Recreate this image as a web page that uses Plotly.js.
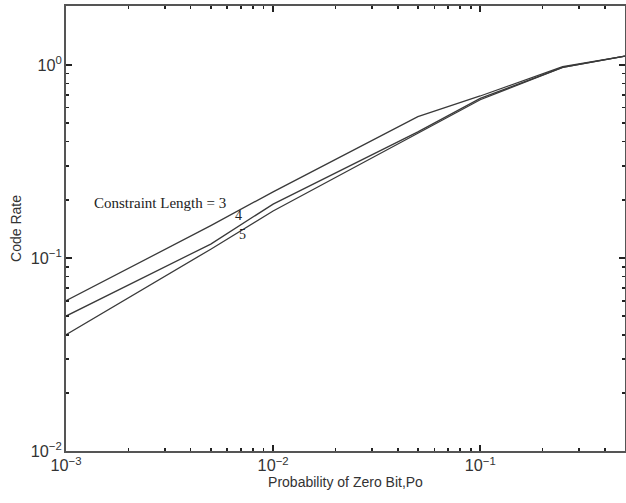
<!DOCTYPE html>
<html>
<head>
<meta charset="utf-8">
<script src="https://cdn.plot.ly/plotly-3.0.1.min.js"></script>
<style>html,body{margin:0;padding:0;background:#fff;}#chart{width:626px;height:503px;}</style>
</head>
<body>
<div id="chart"></div>
<script>
// Probability of zero bit, Po
var po = [0.001, 0.005, 0.01, 0.05, 0.1, 0.25, 0.5];
// Code rate for constraint lengths 3, 4, 5
var rateK3 = [0.060, 0.147, 0.220, 0.540, 0.690, 0.980, 1.110];
var rateK4 = [0.050, 0.118, 0.190, 0.450, 0.670, 0.970, 1.110];
var rateK5 = [0.040, 0.111, 0.175, 0.440, 0.660, 0.970, 1.110];

// decade tick labels (value text produced by Plotly -> shown text)
var tickAliasFrom = ['1'];
var tickAliasTo = ['10<sup>0</sup>'];
var alias = {};
tickAliasFrom.forEach(function (k, i) { alias[k] = tickAliasTo[i]; });

var lineStyle = {color: '#3a3a3a', width: 1.3};
var traces = [
  {x: po, y: rateK3, mode: 'lines', line: lineStyle, name: '3', showlegend: false},
  {x: po, y: rateK4, mode: 'lines', line: lineStyle, name: '4', showlegend: false},
  {x: po, y: rateK5, mode: 'lines', line: lineStyle, name: '5', showlegend: false}
];

function makeAxis(extra) {
  var a = {
    type: 'log',
    showgrid: false,
    zeroline: false,
    showline: true,
    linecolor: '#555',
    linewidth: 1.6,
    mirror: 'allticks',
    ticks: 'inside',
    ticklen: 6,
    tickwidth: 1.5,
    tickcolor: '#222',
    tickmode: 'linear',
    tick0: 0,
    dtick: 1,
    exponentformat: 'power',
    labelalias: alias,
    tickfont: {family: 'Liberation Sans, Arial, sans-serif', size: 13, color: '#333'},
    minor: {ticks: 'inside', ticklen: 3, tickwidth: 1.5, tickcolor: '#222', dtick: 'D1', showgrid: false}
  };
  return Object.assign(a, extra);
}

var layout = {
  width: 626, height: 503,
  margin: {l: 66, r: 1, t: 6, b: 52},
  paper_bgcolor: '#fff', plot_bgcolor: '#fff',
  showlegend: false,
  xaxis: makeAxis({
    range: [-3, Math.log10(0.5)],
    title: {text: 'Probability of Zero Bit,Po', font: {family: 'Liberation Sans, Arial, sans-serif', size: 14, color: '#333'}, standoff: 4}
  }),
  yaxis: makeAxis({
    range: [-2, 0.305],
    title: {text: 'Code Rate', font: {family: 'Liberation Sans, Arial, sans-serif', size: 14, color: '#333'}, standoff: 6}
  }),
  annotations: [
    {xref: 'x', yref: 'y', x: -2.546, y: -0.715, text: 'Constraint Length = 3', showarrow: false,
     font: {family: 'Liberation Serif, Times New Roman, serif', size: 15, color: '#222'}},
    {xref: 'x', yref: 'y', x: -2.169, y: -0.782, text: '4', showarrow: false,
     font: {family: 'Liberation Serif, Times New Roman, serif', size: 14, color: '#222'}},
    {xref: 'x', yref: 'y', x: -2.150, y: -0.878, text: '5', showarrow: false,
     font: {family: 'Liberation Serif, Times New Roman, serif', size: 14, color: '#222'}}
  ]
};

Plotly.newPlot('chart', traces, layout, {staticPlot: true, displayModeBar: false});
</script>
</body>
</html>
